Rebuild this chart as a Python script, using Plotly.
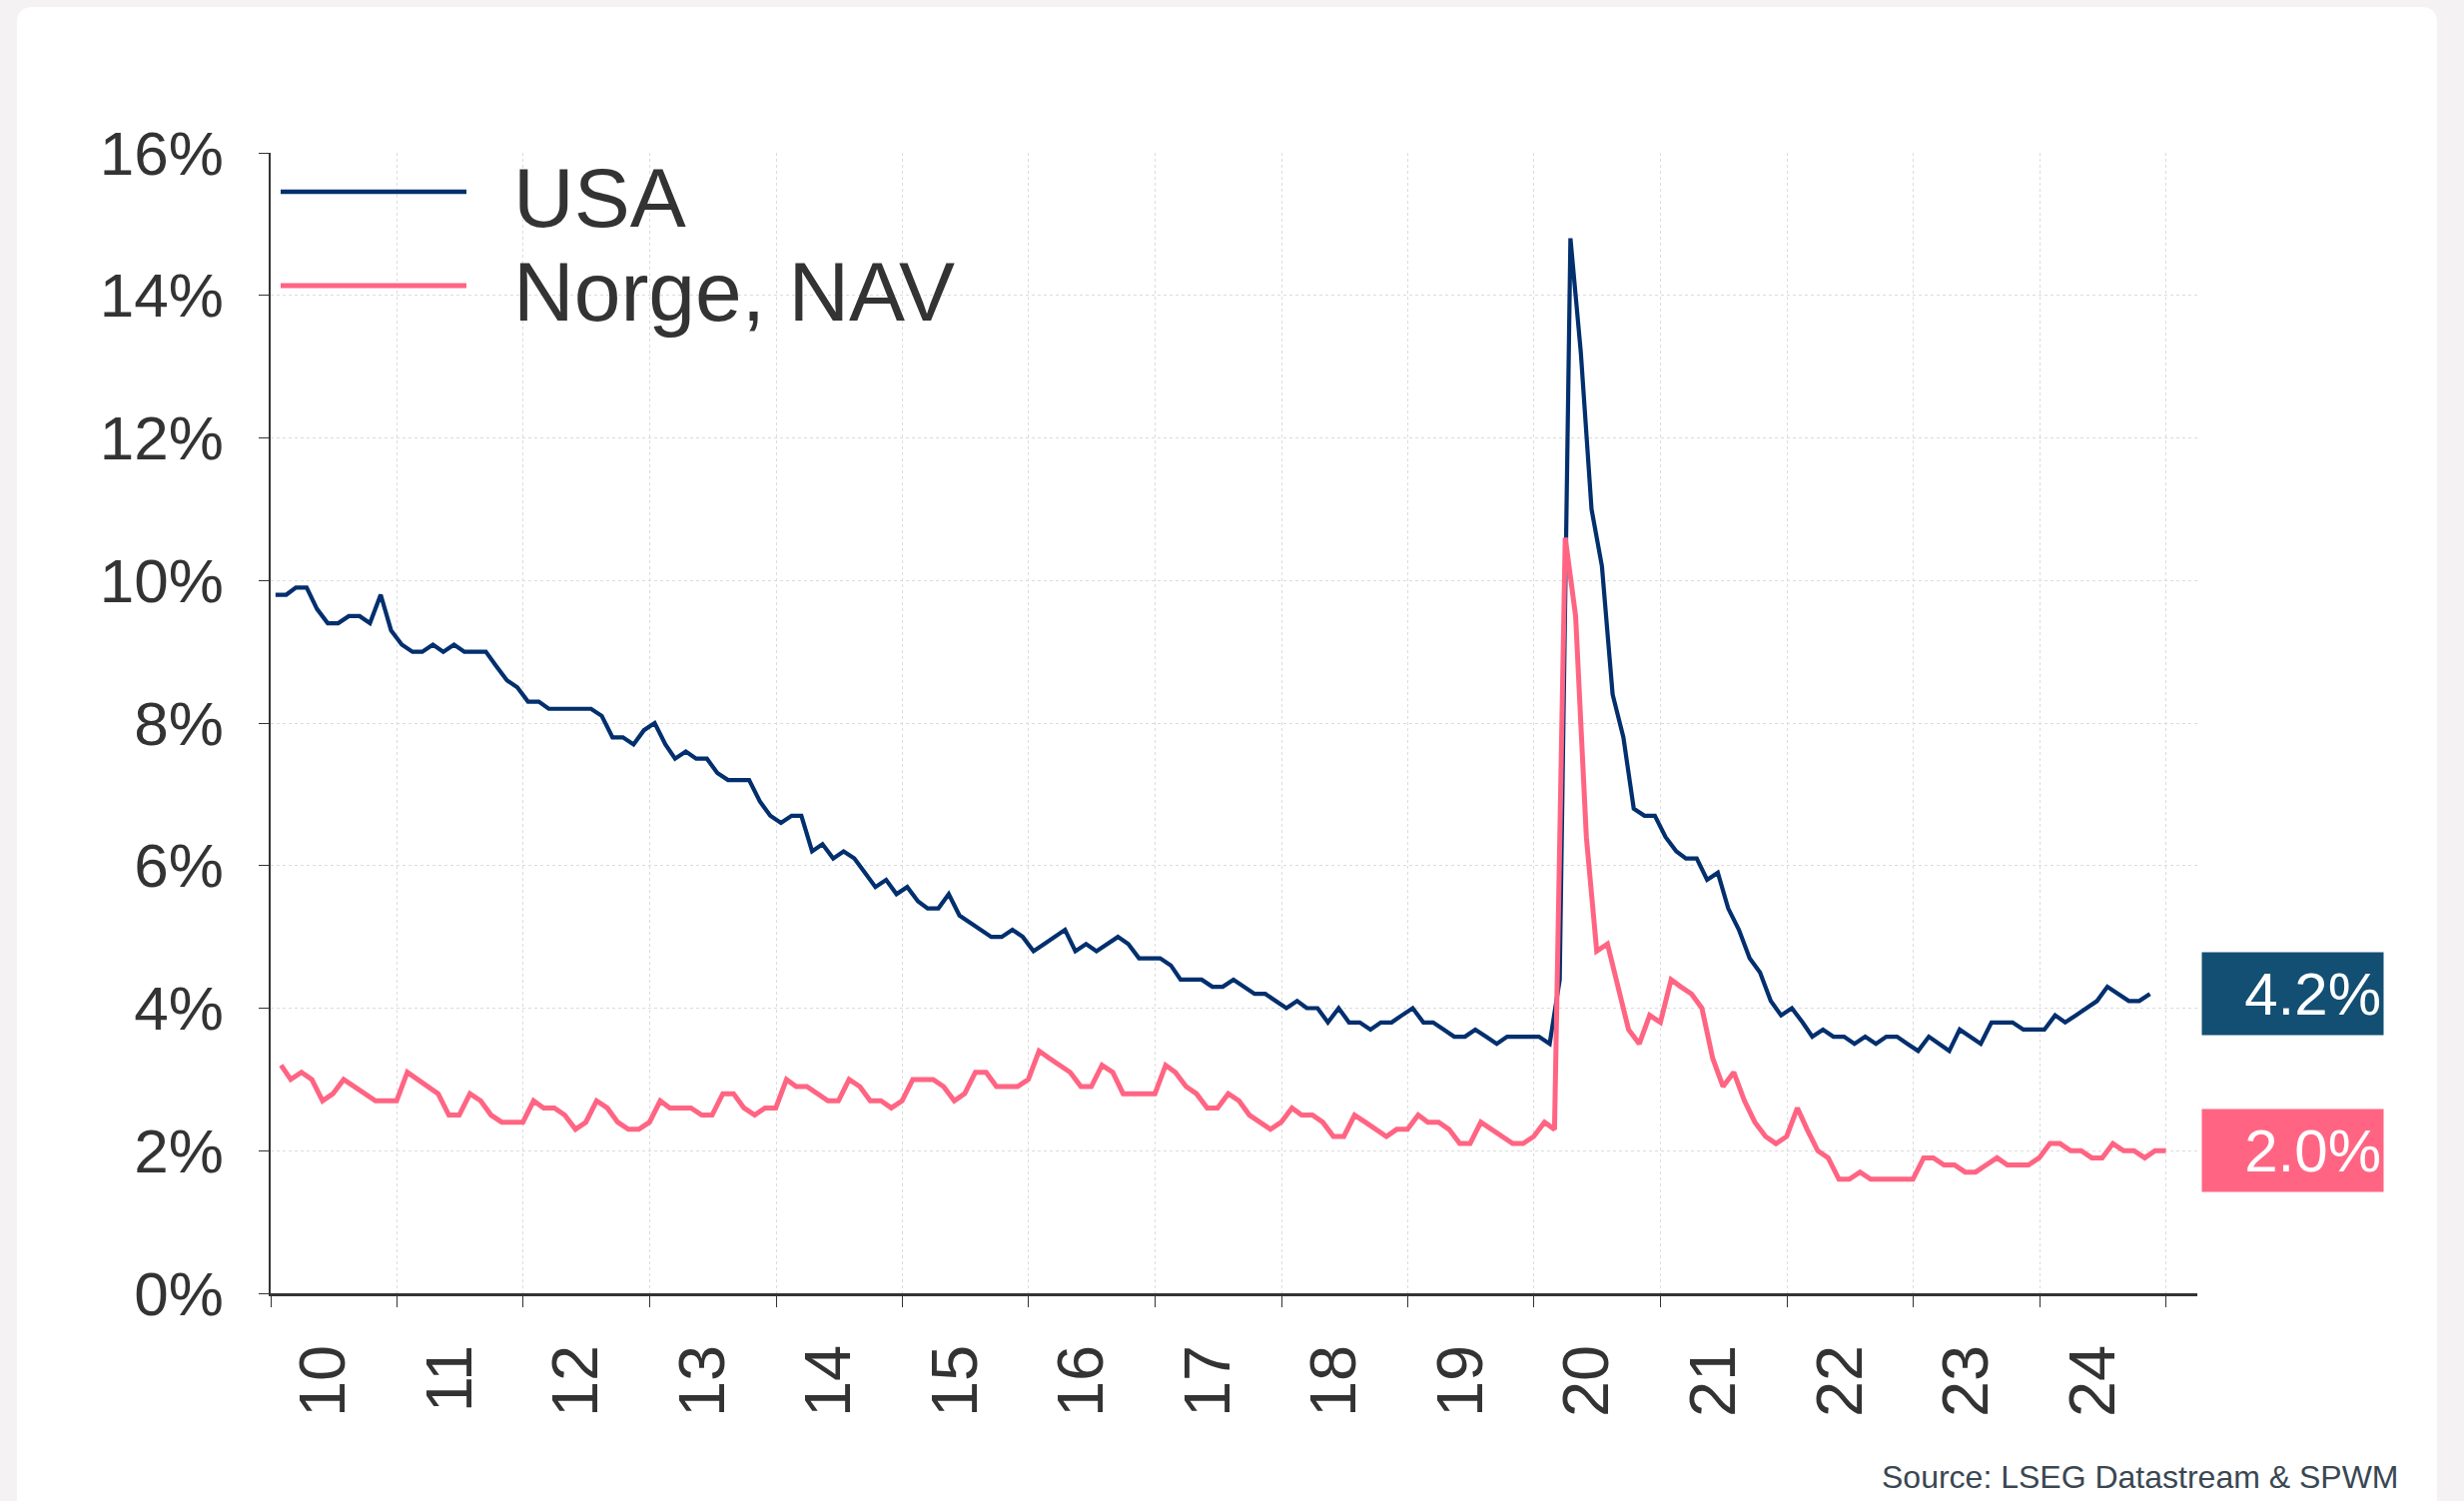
import plotly.graph_objects as go
import pandas as pd

# Arbeidsledighet i prosent, månedlig jan 2010 - nov 2024 (USA) / des 2024 (Norge, NAV)
usa_rate = [
    9.8, 9.8, 9.9, 9.9, 9.6, 9.4, 9.4, 9.5, 9.5, 9.4, 9.8, 9.3,   # 2010
    9.1, 9.0, 9.0, 9.1, 9.0, 9.1, 9.0, 9.0, 9.0, 8.8, 8.6, 8.5,   # 2011
    8.3, 8.3, 8.2, 8.2, 8.2, 8.2, 8.2, 8.1, 7.8, 7.8, 7.7, 7.9,   # 2012
    8.0, 7.7, 7.5, 7.6, 7.5, 7.5, 7.3, 7.2, 7.2, 7.2, 6.9, 6.7,   # 2013
    6.6, 6.7, 6.7, 6.2, 6.3, 6.1, 6.2, 6.1, 5.9, 5.7, 5.8, 5.6,   # 2014
    5.7, 5.5, 5.4, 5.4, 5.6, 5.3, 5.2, 5.1, 5.0, 5.0, 5.1, 5.0,   # 2015
    4.8, 4.9, 5.0, 5.1, 4.8, 4.9, 4.8, 4.9, 5.0, 4.9, 4.7, 4.7,   # 2016
    4.7, 4.6, 4.4, 4.4, 4.4, 4.3, 4.3, 4.4, 4.3, 4.2, 4.2, 4.1,   # 2017
    4.0, 4.1, 4.0, 4.0, 3.8, 4.0, 3.8, 3.8, 3.7, 3.8, 3.8, 3.9,   # 2018
    4.0, 3.8, 3.8, 3.7, 3.6, 3.6, 3.7, 3.6, 3.5, 3.6, 3.6, 3.6,   # 2019
    3.6, 3.5, 4.4, 14.8, 13.2, 11.0, 10.2, 8.4, 7.8, 6.8, 6.7, 6.7,  # 2020
    6.4, 6.2, 6.1, 6.1, 5.8, 5.9, 5.4, 5.1, 4.7, 4.5, 4.1, 3.9,   # 2021
    4.0, 3.8, 3.6, 3.7, 3.6, 3.6, 3.5, 3.6, 3.5, 3.6, 3.6, 3.5,   # 2022
    3.4, 3.6, 3.5, 3.4, 3.7, 3.6, 3.5, 3.8, 3.8, 3.8, 3.7, 3.7,   # 2023
    3.7, 3.9, 3.8, 3.9, 4.0, 4.1, 4.3, 4.2, 4.1, 4.1, 4.2,        # 2024
]

norge_rate = [
    3.2, 3.0, 3.1, 3.0, 2.7, 2.8, 3.0, 2.9, 2.8, 2.7, 2.7, 2.7,   # 2010
    3.1, 3.0, 2.9, 2.8, 2.5, 2.5, 2.8, 2.7, 2.5, 2.4, 2.4, 2.4,   # 2011
    2.7, 2.6, 2.6, 2.5, 2.3, 2.4, 2.7, 2.6, 2.4, 2.3, 2.3, 2.4,   # 2012
    2.7, 2.6, 2.6, 2.6, 2.5, 2.5, 2.8, 2.8, 2.6, 2.5, 2.6, 2.6,   # 2013
    3.0, 2.9, 2.9, 2.8, 2.7, 2.7, 3.0, 2.9, 2.7, 2.7, 2.6, 2.7,   # 2014
    3.0, 3.0, 3.0, 2.9, 2.7, 2.8, 3.1, 3.1, 2.9, 2.9, 2.9, 3.0,   # 2015
    3.4, 3.3, 3.2, 3.1, 2.9, 2.9, 3.2, 3.1, 2.8, 2.8, 2.8, 2.8,   # 2016
    3.2, 3.1, 2.9, 2.8, 2.6, 2.6, 2.8, 2.7, 2.5, 2.4, 2.3, 2.4,   # 2017
    2.6, 2.5, 2.5, 2.4, 2.2, 2.2, 2.5, 2.4, 2.3, 2.2, 2.3, 2.3,   # 2018
    2.5, 2.4, 2.4, 2.3, 2.1, 2.1, 2.4, 2.3, 2.2, 2.1, 2.1, 2.2,   # 2019
    2.4, 2.3, 10.6, 9.5, 6.4, 4.8, 4.9, 4.3, 3.7, 3.5, 3.9, 3.8,  # 2020
    4.4, 4.3, 4.2, 4.0, 3.3, 2.9, 3.1, 2.7, 2.4, 2.2, 2.1, 2.2,   # 2021
    2.6, 2.3, 2.0, 1.9, 1.6, 1.6, 1.7, 1.6, 1.6, 1.6, 1.6, 1.6,   # 2022
    1.9, 1.9, 1.8, 1.8, 1.7, 1.7, 1.8, 1.9, 1.8, 1.8, 1.8, 1.9,   # 2023
    2.1, 2.1, 2.0, 2.0, 1.9, 1.9, 2.1, 2.0, 2.0, 1.9, 2.0, 2.0,   # 2024
]

usa_datoer = pd.date_range("2010-01-01", periods=len(usa_rate), freq="MS") + pd.Timedelta(days=14)
norge_datoer = pd.date_range("2010-01-31", periods=len(norge_rate), freq="ME")

navn = ["USA", "Norge, NAV"]
farger = ["#022f6e", "#ff6583"]
bredder = [4.2, 5.0]
boks_farger = ["#124f72", "#ff6583"]

FONT = "Liberation Sans, Arial, Helvetica, sans-serif"
TEKST = "#333333"
BAKGRUNN = "#f4f2f2"

W, H = 2467, 1503
ML, MR, MT, MB = 271, 267, 153, 208
pw = W - ML - MR
ph = H - MT - MB


def px_x(p):
    return (p - ML) / pw


def px_y(p):
    return (H - MB - p) / ph


fig = go.Figure()

for x, y, n, f, b in zip([usa_datoer, norge_datoer], [usa_rate, norge_rate], navn, farger, bredder):
    fig.add_trace(go.Scatter(
        x=x, y=y, mode="lines", name=n,
        line=dict(color=f, width=b), showlegend=False,
    ))

# hvitt kort med avrundede hjørner
x0, x1 = px_x(17), px_x(2440)
y0, y1 = px_y(1530), px_y(7)
rx, ry = 16 / pw, 16 / ph
kort = (f"M{x0+rx},{y1} L{x1-rx},{y1} Q{x1},{y1} {x1},{y1-ry} "
        f"L{x1},{y0} L{x0},{y0} L{x0},{y1-ry} Q{x0},{y1} {x0+rx},{y1} Z")
fig.add_shape(type="path", path=kort, xref="paper", yref="paper",
              fillcolor="white", line=dict(width=0), layer="below")

# egen tegnforklaring med lange linjer
for n, f, b, ly in zip(navn, farger, bredder, [192, 286]):
    fig.add_shape(type="line", xref="paper", yref="paper",
                  x0=px_x(281), x1=px_x(467), y0=px_y(ly), y1=px_y(ly),
                  line=dict(color=f, width=b + 0.2))
    fig.add_annotation(text=n, xref="paper", yref="paper",
                       x=px_x(512), y=px_y(ly + 6), xanchor="left", yanchor="middle",
                       showarrow=False, font=dict(family=FONT, size=84, color=TEKST))

# siste verdi i boks til høyre
for serie, bf in zip([usa_rate, norge_rate], boks_farger):
    fig.add_annotation(text=f"{serie[-1]:.1f}%", xref="paper", yref="y",
                       x=px_x(2204), y=serie[-1], xanchor="left", yanchor="middle",
                       width=177, height=78, borderpad=2, align="right",
                       bgcolor=bf, showarrow=False,
                       font=dict(family=FONT, size=60, color="white"))

fig.add_annotation(text="Source: LSEG Datastream & SPWM", xref="paper", yref="paper",
                   x=px_x(2404), y=px_y(1479), xanchor="right", yanchor="middle",
                   showarrow=False, font=dict(family=FONT, size=32, color="#3a4752"))

fig.update_layout(
    width=W, height=H,
    margin=dict(l=ML, r=MR, t=MT, b=MB, autoexpand=False),
    paper_bgcolor=BAKGRUNN,
    plot_bgcolor="rgba(0,0,0,0)",
    font=dict(family=FONT, size=60, color=TEKST),
    xaxis=dict(
        type="date",
        range=["2010-01-01", "2025-04-01"],
        dtick="M12", tick0="2010-01-01", tickformat="%y",
        ticklabelmode="period", tickangle=-90,
        ticklabelshift=-10, ticklabelstandoff=12,
        ticks="outside", ticklen=11, tickwidth=1.2, tickcolor=TEKST,
        showline=True, linecolor=TEKST, linewidth=2.5,
        showgrid=True, gridcolor="#dcdcdc", griddash="dot", gridwidth=1,
        tickfont=dict(size=65, color=TEKST),
        zeroline=False,
    ),
    yaxis=dict(
        range=[0, 16], dtick=2, ticksuffix="%",
        ticks="outside", ticklen=10, tickwidth=1.2, tickcolor=TEKST,
        ticklabelstandoff=23,
        showline=True, linecolor=TEKST, linewidth=1.5,
        showgrid=True, gridcolor="#dcdcdc", griddash="dot", gridwidth=1,
        tickfont=dict(size=62, color=TEKST),
        zeroline=False,
    ),
)

# siden uten marg, så figuren står i hjørnet
fig.write_html(
    "out.html",
    config={"displayModeBar": False},
    post_script=f"document.body.style.margin='0';document.body.style.background='{BAKGRUNN}';",
)
